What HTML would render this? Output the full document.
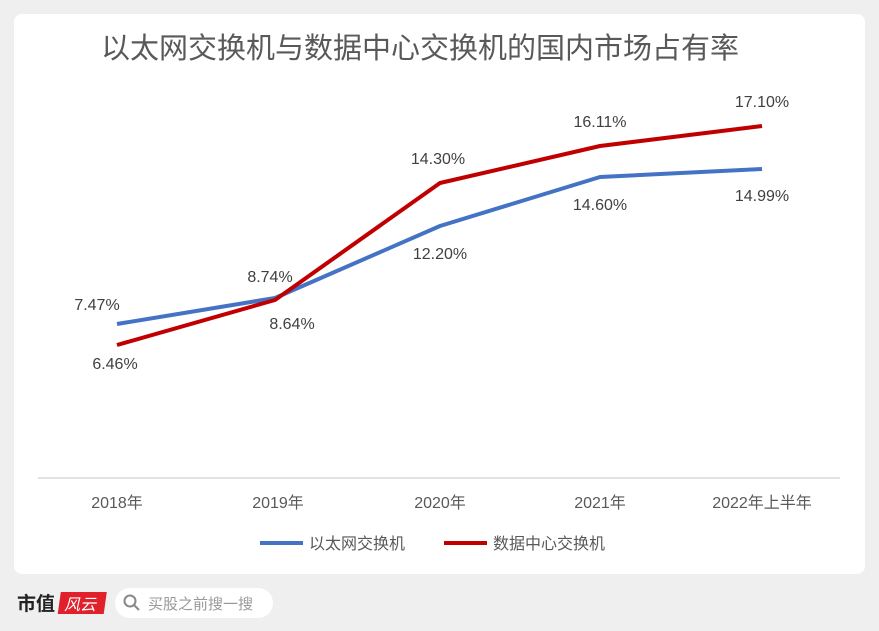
<!DOCTYPE html>
<html><head><meta charset="utf-8"><style>
body{margin:0;width:879px;height:631px;background:#efefef;font-family:"Liberation Sans","Noto Sans CJK SC",sans-serif;overflow:hidden;position:relative}
.card{position:absolute;left:14px;top:14px;width:851px;height:560px;background:#fff;border-radius:8px}
svg{position:absolute;left:0;top:0}
</style></head><body>
<div class="card"></div>
<svg width="879" height="631" viewBox="0 0 879 631" font-family="Liberation Sans, Noto Sans CJK SC, sans-serif">
<text x="420" y="58" text-anchor="middle" font-size="29" fill="#595959">以太网交换机与数据中心交换机的国内市场占有率</text>
<line x1="38" y1="478" x2="840" y2="478" stroke="#d9d9d9" stroke-width="1.5"/>
<g font-size="16" fill="#595959" text-anchor="middle">
<text x="117" y="508">2018年</text><text x="278" y="508">2019年</text><text x="440" y="508">2020年</text><text x="600" y="508">2021年</text><text x="762" y="508">2022年上半年</text>
</g>
<polyline points="117,324 275,298 440,226 600,177 762,169" fill="none" stroke="#4472c4" stroke-width="4" stroke-linejoin="round"/>
<polyline points="117,345 275,300 440,183 600,146 762,126" fill="none" stroke="#c00000" stroke-width="4" stroke-linejoin="round"/>
<g font-size="16" fill="#404040" text-anchor="middle">
<text x="97" y="310">7.47%</text><text x="115" y="369">6.46%</text>
<text x="270" y="282">8.74%</text><text x="292" y="329">8.64%</text>
<text x="438" y="164">14.30%</text><text x="440" y="259">12.20%</text>
<text x="600" y="127">16.11%</text><text x="600" y="210">14.60%</text>
<text x="762" y="107">17.10%</text><text x="762" y="201">14.99%</text>
</g>
<line x1="260" y1="543" x2="303" y2="543" stroke="#4472c4" stroke-width="4"/>
<text x="309" y="549" font-size="16" fill="#595959">以太网交换机</text>
<line x1="444" y1="543" x2="487" y2="543" stroke="#c00000" stroke-width="4"/>
<text x="493" y="549" font-size="16" fill="#595959">数据中心交换机</text>
<text x="17" y="610" font-size="19" font-weight="bold" fill="#222">市值</text>
<rect x="59" y="592" width="46" height="22" fill="#e0202a" transform="skewX(-8) translate(85,0)"/>
<text x="80" y="610" font-size="16" fill="#fff" font-style="italic" text-anchor="middle">风云</text>
<rect x="115" y="588" width="158" height="30" rx="15" fill="#fff"/>
<circle cx="130" cy="601" r="5.5" fill="none" stroke="#888" stroke-width="2"/>
<line x1="134" y1="605" x2="139" y2="610" stroke="#888" stroke-width="2"/>
<text x="148" y="609" font-size="15" fill="#999">买股之前搜一搜</text>
</svg>
</body></html>
